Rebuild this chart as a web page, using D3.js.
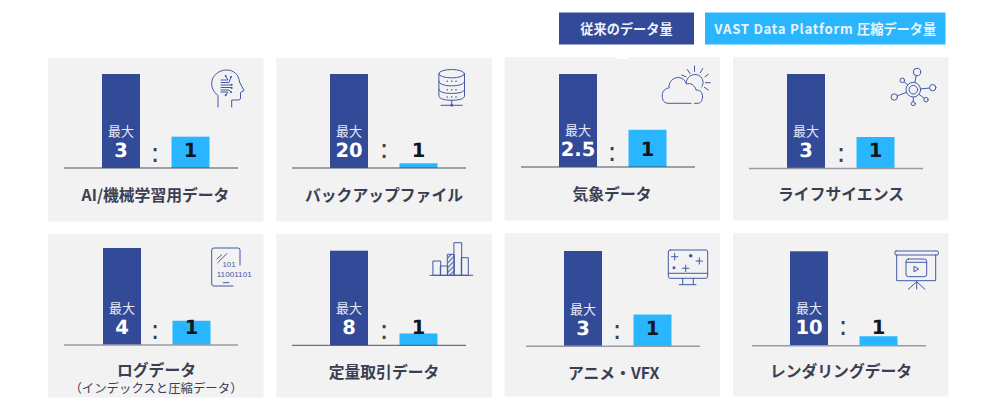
<!DOCTYPE html>
<html lang="ja">
<head>
<meta charset="utf-8">
<title>データ削減率</title>
<script src="https://cdn.jsdelivr.net/npm/d3@7"></script>
<style>
  html, body { margin: 0; padding: 0; background: #fff; }
  svg { display: block; }
</style>
</head>
<body>
<svg id="chart" width="1000" height="411"></svg>
<script>
// Data
const legendLabels = ["従来のデータ量", "VAST Data Platform 圧縮データ量"];
const categories = ["AI/機械学習用データ", "バックアップファイル", "気象データ", "ライフサイエンス",
                    "ログデータ", "定量取引データ", "アニメ・VFX", "レンダリングデータ"];
const subtitles = ["", "", "", "", "（インデックスと圧縮データ）", "", "", ""];
const traditionalValues = [3, 20, 2.5, 3, 4, 8, 3, 10];
const compressedValues = [1, 1, 1, 1, 1, 1, 1, 1];
const maxPrefix = "最大";
const seriesKeys = ["traditional", "compressed"];

// Layout, one entry per panel
const panelTops = [58, 58, 57, 57, 234, 234, 233, 233];
const barLefts = [102, 330, 559, 787, 103, 330, 564, 790];
const baselines = [168, 168, 167, 168.5, 345, 345.3, 346.3, 345.7];
const barTops = [74, 74, 74, 74, 248, 250.7, 251, 251.3];
const lineLefts = [64, 292, 521, 749, 64, 292, 526, 752];
const colonXs = [155, 384, 612, 841, 155, 384, 617, 843];
const colonYs = [152, 148, 151, 152, 329, 329.7, 329.7, 325];
const titleCenters = [155.5, 384, 612, 841, 156.5, 384, 613.7, 841];
const titleYs = [194.7, 194.7, 193, 193.5, 369, 371, 372, 370];
const lineStyles = ["thin", "thin", "thin", "soft", "soft", "thin", "soft", "soft"];

const colors = {
  traditional: "#334a98",
  compressed: "#29b6ff",
  panel: "#f2f2f2",
  title: "#3a3f52",
  figure: "#14141c",
  icon: "#4159a6"
};
const cjk = "'Noto Sans CJK JP', 'Noto Sans', sans-serif";
const latinBold = "'DejaVu Sans', sans-serif";

const svg = d3.select("#chart");
const defs = svg.append("defs");

defs.append("pattern")
  .attr("id", "hatch")
  .attr("width", 3.4).attr("height", 3.4)
  .attr("patternUnits", "userSpaceOnUse")
  .attr("patternTransform", "rotate(-45)")
  .append("line")
  .attr("x1", 0).attr("x2", 3.4).attr("y1", 1).attr("y2", 1)
  .attr("stroke", colors.icon).attr("stroke-width", 1.1);

// Panel columns sit on an even grid
const colScale = d3.scalePoint().domain(d3.range(4)).range([48, 733]);
const panelWidth = 215.5, panelHeight = 163.5, lineLength = 174;

const panelData = categories.map((name, i) => ({
  i, name,
  subtitle: subtitles[i],
  traditional: traditionalValues[i],
  compressed: compressedValues[i]
}));

// Legend
const legendBoxes = [
  { x: 559, w: 135, key: "traditional" },
  { x: 705, w: 240.5, key: "compressed" }
];
const legend = svg.append("g").selectAll("g").data(legendLabels).join("g");
legend.append("rect")
  .attr("x", (d, i) => legendBoxes[i].x)
  .attr("y", 12.5)
  .attr("width", (d, i) => legendBoxes[i].w)
  .attr("height", 32)
  .attr("fill", (d, i) => colors[legendBoxes[i].key]);
legend.append("text")
  .attr("x", (d, i) => legendBoxes[i].x + legendBoxes[i].w / 2)
  .attr("y", 27.5)
  .attr("text-anchor", "middle")
  .attr("dominant-baseline", "central")
  .attr("fill", "#eef3fb")
  .attr("font-family", cjk)
  .attr("font-weight", 700)
  .attr("font-size", 13.2)
  .each(function (d) {
    // Latin runs are spaced out a little more than the kana and kanji
    const t = d3.select(this);
    d.split(/(?<=[\x00-\x7f])(?=[^\x00-\x7f])/).forEach(run => {
      t.append("tspan")
        .attr("letter-spacing", /^[\x00-\x7f]/.test(run) ? 0.72 : 0)
        .text(run);
    });
  });

// Panels
const panels = svg.append("g").selectAll("g").data(panelData).join("g");

panels.append("rect")
  .attr("x", d => colScale(d.i % 4))
  .attr("y", d => panelTops[d.i])
  .attr("width", panelWidth)
  .attr("height", panelHeight)
  .attr("fill", colors.panel);

// Small cut-out along the top edge of the third panel
svg.append("rect")
  .attr("x", 615).attr("y", 57).attr("width", 13).attr("height", 2).attr("fill", "#fff");

panels.each(function (d) {
  const g = d3.select(this);
  const left = barLefts[d.i];
  const base = baselines[d.i];

  // Each panel has its own ratio scale: the taller bar fills the plot height
  const y = d3.scaleLinear().domain([0, d.traditional]).range([base, barTops[d.i]]);
  const x = d3.scaleBand().domain(seriesKeys)
    .range([left, left + 107.5])
    .paddingInner(0.4532);

  g.selectAll("rect.bar").data(seriesKeys).join("rect")
    .attr("class", "bar")
    .attr("x", k => x(k))
    .attr("width", x.bandwidth())
    .attr("y", k => y(d[k]))
    .attr("height", k => y(0) - y(d[k]))
    .attr("fill", k => colors[k]);

  const soft = lineStyles[d.i] === "soft";
  g.append("line")
    .attr("x1", lineLefts[d.i]).attr("x2", lineLefts[d.i] + lineLength)
    .attr("y1", base).attr("y2", base)
    .attr("stroke", soft ? "#9a9ba2" : "#4b4f60")
    .attr("stroke-width", soft ? 1.4 : 1);

  const figure = (text, k, fill) => g.append("text")
    .attr("x", x(k) + x.bandwidth() / 2)
    .attr("y", base - 18)
    .attr("text-anchor", "middle")
    .attr("dominant-baseline", "central")
    .attr("text-rendering", "geometricPrecision")
    .attr("font-family", latinBold)
    .attr("font-weight", 700)
    .attr("font-size", 19.5)
    .attr("fill", fill)
    .text(text);

  g.append("text")
    .attr("x", x("traditional") + x.bandwidth() / 2)
    .attr("y", base - 38)
    .attr("text-anchor", "middle")
    .attr("dominant-baseline", "central")
    .attr("font-family", cjk)
    .attr("font-size", 13)
    .attr("fill", "#e6ebf6")
    .text(maxPrefix);
  figure(d.traditional, "traditional", "#ffffff");
  figure(d.compressed, "compressed", colors.figure);

  g.append("text")
    .attr("x", colonXs[d.i])
    .attr("y", colonYs[d.i])
    .attr("text-anchor", "middle")
    .attr("dominant-baseline", "central")
    .attr("font-family", latinBold)
    .attr("font-size", 27)
    .attr("fill", colors.title)
    .text(":");

  g.append("text")
    .attr("x", titleCenters[d.i])
    .attr("y", titleYs[d.i])
    .attr("text-anchor", "middle")
    .attr("dominant-baseline", "central")
    .attr("font-family", cjk)
    .attr("font-weight", 700)
    .attr("font-size", 15.8)
    .attr("fill", colors.title)
    .text(d.name);

  if (d.subtitle) {
    g.append("text")
      .attr("x", titleCenters[d.i] - 0.5)
      .attr("y", titleYs[d.i] + 18.5)
      .attr("text-anchor", "middle")
      .attr("dominant-baseline", "central")
      .attr("font-family", cjk)
      .attr("font-size", 12.4)
      .attr("fill", colors.title)
      .text(d.subtitle);
  }
});

// Outline pictograms, one per panel
function iconGroup(tx, ty) {
  return svg.append("g")
    .attr("transform", `translate(${tx},${ty})`)
    .attr("fill", "none")
    .attr("stroke", colors.icon)
    .attr("stroke-width", 1)
    .attr("stroke-linecap", "round")
    .attr("stroke-linejoin", "round");
}
const drawPath = (g, d) => g.append("path").attr("d", d);
const drawDot = (g, cx, cy, r, fill) => g.append("circle")
  .attr("cx", cx).attr("cy", cy).attr("r", r)
  .attr("fill", fill || colors.icon).attr("stroke", fill ? colors.icon : "none");

// Head with circuit traces
{
  const g = iconGroup(205, 62);
  drawPath(g, "M13,45 V33.5 C8.5,30 6.5,25.5 6.7,21 C7,13.5 14,8 21.5,8 C29,8 34,13 34.5,20 L39,28.5 L35.5,30.5 V36 Q35.5,38 33.5,38 H26.7 V45");
  drawPath(g, "M16,18 H23 L20.7,14 M16,20.5 H24 L26,15 M16,23 H26.7 M16,25.5 H26.7 M16,28 H24 L26,30 M16,30 H23 L20.7,33.3");
  [[20.7, 14], [26, 15], [26.7, 22.7], [26.7, 26], [26, 30], [20.7, 33.3]]
    .forEach(p => drawDot(g, p[0], p[1], 1));
}

// Database stack on a network line
{
  const g = iconGroup(430, 62);
  g.append("ellipse").attr("cx", 21.7).attr("cy", 11.7).attr("rx", 12.8).attr("ry", 4.2);
  drawPath(g, "M8.9,11.7 V34 C8.9,36.5 14,38.3 21.7,38.3 C29.4,38.3 34.5,36.5 34.5,34 V11.7");
  drawPath(g, "M8.9,19.5 C9,22 14,23.8 21.7,23.8 C29.4,23.8 34.4,22 34.5,19.5");
  drawPath(g, "M8.9,27.5 C9,30 14,31.4 21.7,31.4 C29.4,31.4 34.4,30 34.5,27.5");
  drawPath(g, "M21.7,38.3 V43.3 M11,43.3 H32.3");
  drawDot(g, 21.7, 43.3, 1.4);
  [19.3, 27.7, 35].forEach(cy => [17.3, 21.7, 26].forEach(cx => drawDot(g, cx, cy, 0.8)));
}

// Cloud and sun
{
  const g = iconGroup(655, 60);
  drawPath(g, "M36,43.3 H13 C8,43.3 7,38 7.3,35 C7.5,31 10,28.5 14,28 C13.5,21 19,17.5 23,17.5 C27,17.5 30,20 31.5,24 C35,22.5 40,25 41,30 C45,30 47.5,32 47.5,37 C47.5,41 45,43.3 43,43.3 H39.5");
  drawPath(g, "M31,23 C32,17 36,14.5 40,14.5 C45,14.5 48,18.5 48,22.5 C48,24.5 47.5,26 46.5,27");
  drawPath(g, "M39.5,6 V11.5 M32.3,9.5 L35,13.5 M26.7,15 L31,16.7 M45.3,12.7 L47.7,8.5 M50,16.7 L53.3,14.3 M50.5,22.7 H55.3 M49.3,27.3 L53.3,30");
}

// Connected nodes
{
  const g = iconGroup(885, 62);
  const c = [28.3, 27.7];
  const nodes = [[32, 10, 3.7], [47.7, 25.7, 3.2], [9.3, 35, 3.2], [17.3, 18.3, 2.3], [41, 37.7, 2.2], [28.3, 41.7, 2]];
  nodes.forEach(n => g.append("line").attr("x1", c[0]).attr("y1", c[1]).attr("x2", n[0]).attr("y2", n[1]));
  nodes.forEach(n => drawDot(g, n[0], n[1], n[2], colors.panel));
  drawDot(g, c[0], c[1], 7.3, colors.panel);
  g.append("circle").attr("cx", c[0]).attr("cy", c[1]).attr("r", 4.3);
}

// Tablet with a binary read-out
{
  const g = iconGroup(205, 242);
  drawPath(g, "M35,23 V8 Q35,6 33,6 H9 Q6.7,6 6.7,8 V42 Q6.7,44 9,44 H28");
  drawPath(g, "M12,17 L16.7,12.7 M12.7,20.7 L21.7,11.7 M18.3,40.7 H24");
  [["101", 24, 22.5, 13], ["11001101", 29.2, 32, 35]].forEach(t => {
    g.append("text")
      .attr("x", t[1]).attr("y", t[2])
      .attr("text-anchor", "middle")
      .attr("dominant-baseline", "central")
      .attr("font-family", "'Liberation Sans', sans-serif")
      .attr("font-size", 8)
      .attr("textLength", t[3])
      .attr("lengthAdjust", "spacingAndGlyphs")
      .attr("fill", colors.icon)
      .attr("stroke", "none")
      .text(t[0]);
  });
}

// Small column chart
{
  const g = iconGroup(425, 236);
  const cols = [[8.3, 15.7, 25], [15.7, 22.7, 30], [22.7, 29.3, 18.3], [29.3, 36.7, 6.7], [36.7, 43.3, 21.7]];
  cols.forEach((c, i) => g.append("rect")
    .attr("x", c[0]).attr("y", c[2])
    .attr("width", c[1] - c[0]).attr("height", 39.3 - c[2])
    .attr("fill", i === 2 ? "url(#hatch)" : "none"));
  drawPath(g, "M5,39.3 H47.7");
}

// Monitor with sparkles
{
  const g = iconGroup(660, 245);
  g.append("rect").attr("x", 8.3).attr("y", 5).attr("width", 39.4).attr("height", 28.3).attr("rx", 2);
  drawPath(g, "M8.3,28.3 H47.7 M22.7,33.3 V39.5 M33.3,33.3 V39.5 M19.3,39.7 H36");
  drawDot(g, 30.7, 10.7, 1.8);
  drawDot(g, 14, 22.7, 1.5);
  [[14.7, 11.7], [39.3, 16], [25.7, 23.3]].forEach(p => {
    drawPath(g, `M${p[0] - 3.2},${p[1]} H${p[0] + 3.2} M${p[0]},${p[1] - 3.2} V${p[1] + 3.2}`);
  });
}

// Projection screen with a video window
{
  const g = iconGroup(890, 245);
  g.append("rect").attr("x", 5).attr("y", 6).attr("width", 43.3).attr("height", 4).attr("rx", 1);
  drawPath(g, "M6.7,10 V35.7 H45.7 V10");
  g.append("rect").attr("x", 16).attr("y", 14).attr("width", 20.7).attr("height", 17.7).attr("rx", 2.5);
  drawPath(g, "M16,17.3 H36.7 M24,21.7 V26.7 L28.3,24.2 Z");
  drawPath(g, "M26.7,36 V44 M18.3,44.3 L26.7,36.7 L35,44.3");
}
</script>
</body>
</html>
